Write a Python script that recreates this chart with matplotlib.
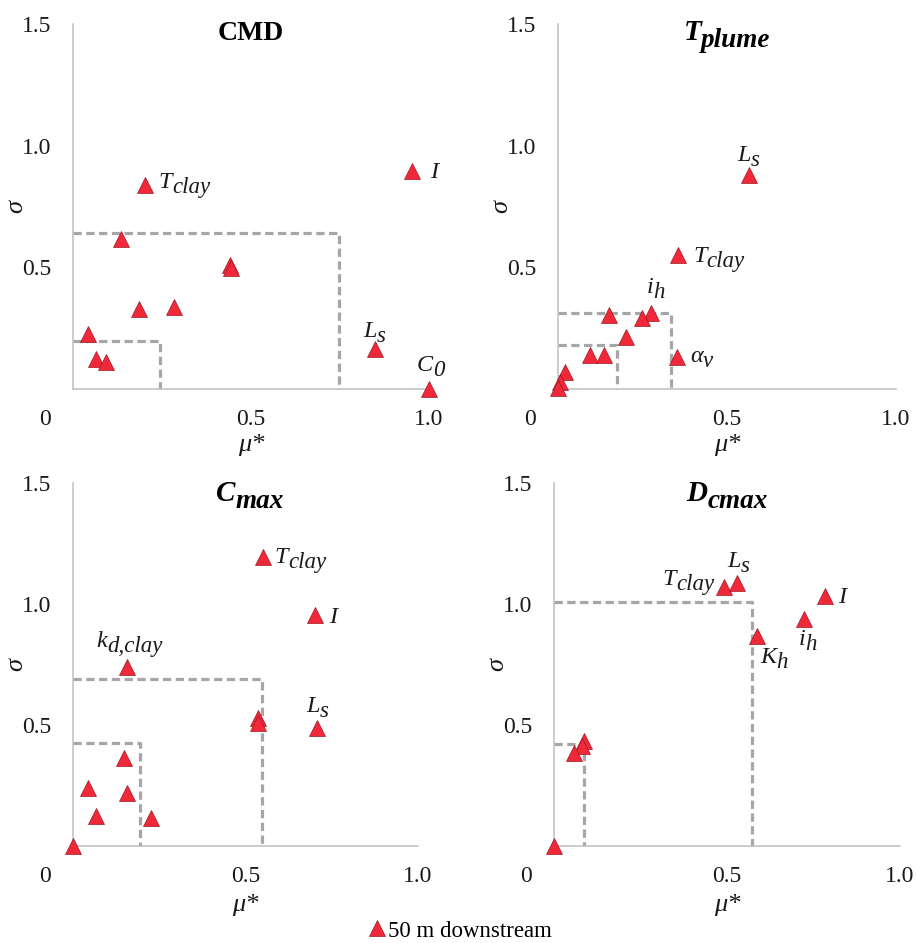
import matplotlib
matplotlib.use("Agg")
import matplotlib.pyplot as plt
from matplotlib.lines import Line2D

# ---------------- data ----------------
# CMD panel
cmd_mu    = [0.202, 0.951, 0.134, 0.441, 0.445, 0.186, 0.284, 0.043, 0.066, 0.093, 0.848, 1.000]
cmd_sigma = [0.840, 0.894, 0.616, 0.510, 0.498, 0.328, 0.339, 0.225, 0.122, 0.112, 0.163, 0.000]
cmd_labels = {0: ("T", "clay"), 1: ("I", ""), 10: ("L", "s"), 11: ("C", "0")}
cmd_box_mu    = [0.243, 0.748]
cmd_box_sigma = [0.199, 0.643]

# T_plume panel
tpl_mu    = [0.565, 0.355, 0.276, 0.249, 0.150, 0.200, 0.094, 0.136, 0.352, 0.020, 0.005, 0.000]
tpl_sigma = [0.878, 0.551, 0.311, 0.291, 0.305, 0.213, 0.140, 0.140, 0.133, 0.071, 0.030, 0.005]
tpl_labels = {0: ("L", "s"), 1: ("T", "clay"), 2: ("i", "h"), 8: ("\u03b1", "v")}
tpl_box_mu    = [0.175, 0.333]
tpl_box_sigma = [0.181, 0.311]

# C_max panel
cmx_mu    = [0.550, 0.702, 0.157, 0.535, 0.537, 0.707, 0.147, 0.044, 0.157, 0.066, 0.227, 0.000]
cmx_sigma = [1.193, 0.955, 0.741, 0.530, 0.510, 0.489, 0.362, 0.241, 0.220, 0.124, 0.114, 0.000]
cmx_labels = {0: ("T", "clay"), 1: ("I", ""), 2: ("k", "d,clay"), 5: ("L", "s")}
cmx_box_mu    = [0.194, 0.548]
cmx_box_sigma = [0.427, 0.690]

# D_cmax panel
dcm_mu    = [0.491, 0.530, 0.782, 0.722, 0.588, 0.087, 0.081, 0.058, 0.000]
dcm_sigma = [1.069, 1.085, 1.033, 0.937, 0.869, 0.432, 0.413, 0.386, 0.000]
dcm_labels = {0: ("T", "clay"), 1: ("L", "s"), 2: ("I", ""), 3: ("i", "h"), 4: ("K", "h")}
dcm_box_mu    = [0.086, 0.573]
dcm_box_sigma = [0.421, 1.010]

x_ticks = [0.5, 1.0]
x_ticklabels = ["0.5", "1.0"]
y_ticks = [0.5, 1.0, 1.5]
y_ticklabels = ["0.5", "1.0", "1.5"]
legend_label = "50 m downstream"

# --------------- style ----------------
SERIF = ["Liberation Serif", "DejaVu Serif"]
RED = "#f0283a"
EDGE = "#9a1a22"
GRAY_DASH = "#a6a6a6"
AXIS_GRAY = "#bfbfbf"
TXT = "#1a1a1a"

W, H = 917, 943
fig = plt.figure(figsize=(W / 100, H / 100), dpi=100)

def px_rect(left, right, top, bottom):
    return [left / W, 1 - bottom / H, (right - left) / W, (bottom - top) / H]

rects = [
    px_rect(73, 429, 24, 389),
    px_rect(558, 896, 24, 389),
    px_rect(73, 418, 483, 846),
    px_rect(554, 900, 483, 846),
]

# label offsets (points) relative to marker, per panel
label_offsets = [
    {0: (10, -2.5), 1: (13, -4.5), 10: (-8.6, 8.6), 11: (-8.6, 13)},
    {0: (-8.6, 10), 1: (10.8, -4.8), 2: (-3.6, 14.8), 8: (9.6, -3.6)},
    {0: (8.4, -4.3), 1: (10, -6), 2: (-22, 14.4), 5: (-7.9, 11.5)},
    {0: (-44, 1.7), 1: (-7.2, 12), 2: (9.6, -5.3), 3: (-3.6, -18.5), 4: (1.7, -19.9)},
]
title_x = [0.5, 0.5, 0.513, 0.5]

panels = [
    (("CMD", ""), cmd_mu, cmd_sigma, cmd_labels, cmd_box_mu, cmd_box_sigma, False),
    (("T", "plume"), tpl_mu, tpl_sigma, tpl_labels, tpl_box_mu, tpl_box_sigma, True),
    (("C", "max"), cmx_mu, cmx_sigma, cmx_labels, cmx_box_mu, cmx_box_sigma, True),
    (("D", "cmax"), dcm_mu, dcm_sigma, dcm_labels, dcm_box_mu, dcm_box_sigma, True),
]

renderer = fig.canvas.get_renderer()


def point_label(ax, x, y, main, sub, dx, dy):
    t = ax.annotate(main, xy=(x, y), xytext=(dx, dy), textcoords="offset points",
                    ha="left", va="baseline", fontsize=17.5, style="italic",
                    family=SERIF, color=TXT)
    if sub:
        ax.annotate(sub, xy=(1, 0), xycoords=t, xytext=(0, 0.0),
                    textcoords="offset points", ha="left", va="baseline",
                    fontsize=16.5, style="italic", family=SERIF, color=TXT)


def title(ax, main, sub, italic, x, y):
    size = 20 if not sub else 21
    t1 = ax.text(x, y, main, transform=ax.transAxes, ha="left", va="baseline",
                 fontsize=size, fontweight="bold",
                 style="italic" if italic else "normal", family=SERIF)
    parts = [t1]
    if sub:
        t2 = ax.annotate(sub, xy=(1, 0), xycoords=t1, xytext=(0, -0.5),
                         textcoords="offset points", ha="left", va="baseline",
                         fontsize=19.5, fontweight="bold", style="italic",
                         family=SERIF)
        parts.append(t2)
    total = sum(p.get_window_extent(renderer).width for p in parts)
    ax_w = ax.get_window_extent(renderer).width
    t1.set_x(x - total / 2 / ax_w)


axes = []
for i, (ttl, mu, sig, labs, bmu, bsig, ital) in enumerate(panels):
    ax = fig.add_axes(rects[i])
    axes.append(ax)
    ax.set_xlim(0, 1.0)
    ax.set_ylim(0, 1.5)
    for s in ("top", "right"):
        ax.spines[s].set_visible(False)
    for s in ("left", "bottom"):
        ax.spines[s].set_color(AXIS_GRAY)
        ax.spines[s].set_linewidth(1.1)
    ax.set_xticks(x_ticks)
    ax.set_xticklabels(x_ticklabels)
    ax.set_yticks(y_ticks)
    ax.set_yticklabels(y_ticklabels)
    ax.tick_params(axis="x", length=0, pad=14.5, labelsize=17, labelcolor=TXT)
    ax.tick_params(axis="y", length=0, pad=15.5, labelsize=17, labelcolor=TXT)
    for lab in ax.get_xticklabels() + ax.get_yticklabels():
        lab.set_family(SERIF)
    ax.annotate("0", xy=(0, 0), xycoords="axes fraction", xytext=(-20, -14.5),
                textcoords="offset points", ha="center", va="top",
                fontsize=17, family=SERIF, color=TXT)

    # dashed threshold boxes
    for m, s in zip(bmu, bsig):
        ax.plot([0, m, m], [s, s, 0], color=GRAY_DASH, lw=2.3,
                ls=(0, (2.6, 1.4)), dash_capstyle="butt", zorder=2,
                clip_on=False)

    ax.plot(mu, sig, ls="none", marker="^", ms=11.5, mfc=RED, mec=EDGE,
            mew=0.5, clip_on=False, zorder=3, label=legend_label)

    for idx, (main, sub) in labs.items():
        dx, dy = label_offsets[i][idx]
        point_label(ax, mu[idx], sig[idx], main, sub, dx, dy)

    # axis labels
    ax_h = ax.get_window_extent(renderer).height
    ax_w = ax.get_window_extent(renderer).width
    ax.text(0.5, (-56 if i < 2 else -59) / ax_h, "\u03bc*", transform=ax.transAxes,
            ha="center", va="center", fontsize=19, style="italic", family=SERIF,
            color=TXT)
    ax.text(-57 / ax_w, 0.5, "\u03c3", transform=ax.transAxes, ha="center",
            va="center", rotation=90, fontsize=19, style="italic",
            family=SERIF, color=TXT)

    title_y = 0.956 if i < 2 else 0.950
    title(ax, ttl[0], ttl[1], ital, title_x[i], title_y)

handle = Line2D([], [], ls="none", marker="^", ms=11.5, mfc=RED, mec=EDGE, mew=0.5)
fig.legend([handle], [legend_label], loc="center", bbox_to_anchor=(0.503, 1 - 931 / H),
           frameon=False, handlelength=0.6, handletextpad=0.2, borderpad=0,
           prop={"family": SERIF, "size": 16.5})

fig.savefig("out.png", dpi=100)
